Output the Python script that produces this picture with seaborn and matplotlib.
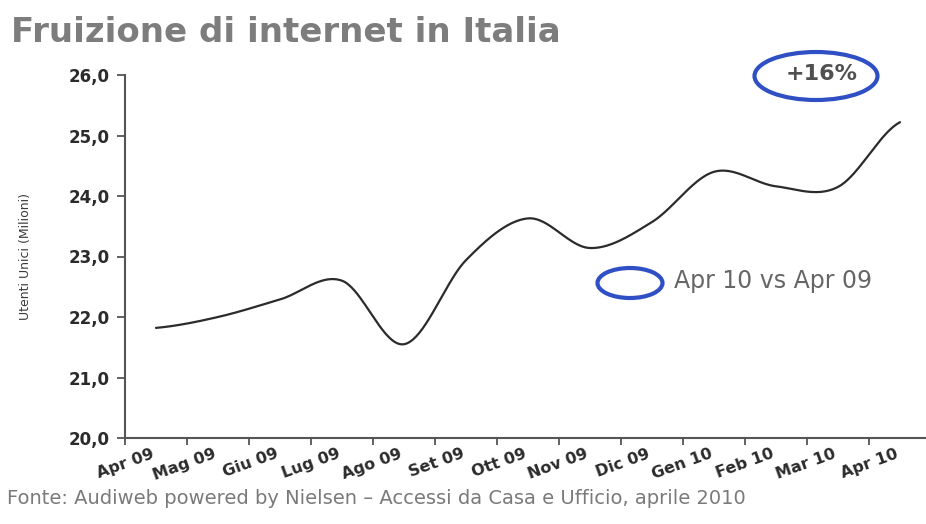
import numpy as np
import pandas as pd
import matplotlib
matplotlib.use("Agg")
import matplotlib.pyplot as plt
from matplotlib.patches import Ellipse
from matplotlib.ticker import FuncFormatter
from matplotlib.transforms import ScaledTranslation
import seaborn as sns

# Utenti unici mensili (milioni), aprile 2009 - aprile 2010
mesi = ["Apr 09", "Mag 09", "Giu 09", "Lug 09", "Ago 09", "Set 09", "Ott 09",
        "Nov 09", "Dic 09", "Gen 10", "Feb 10", "Mar 10", "Apr 10"]
utenti = [21.82, 22.00, 22.29, 22.60, 21.55, 22.94, 23.63,
          23.14, 23.57, 24.40, 24.16, 24.15, 25.22]
y_ticks = [20, 21, 22, 23, 24, 25, 26]

titolo = "Fruizione di internet in Italia"
etichetta_y = "Utenti Unici (Milioni)"
variazione = "+16%"
confronto = "Apr 10 vs Apr 09"
fonte = "Fonte: Audiweb powered by Nielsen \u2013 Accessi da Casa e Ufficio, aprile 2010"


def curva_smussata(valori, passi=40):
    """Smoothed line through every point (Bezier with Catmull-Rom handles)."""
    p = np.asarray(valori, dtype=float)
    n = len(p)
    xs, ys = [], []
    for i in range(n - 1):
        p0 = p[i - 1] if i > 0 else p[i]
        p1, p2 = p[i], p[i + 1]
        p3 = p[i + 2] if i + 2 < n else p[i + 1]
        t = np.linspace(0, 1, passi, endpoint=(i == n - 2))
        c1 = p1 + (p2 - p0) / 6.0
        c2 = p2 - (p3 - p1) / 6.0
        y = ((1 - t) ** 3) * p1 + 3 * ((1 - t) ** 2) * t * c1 + 3 * (1 - t) * t ** 2 * c2 + t ** 3 * p2
        xs.append(i + t)
        ys.append(y)
    return np.concatenate(xs), np.concatenate(ys)


sns.set_theme(style="white")
plt.rcParams["font.family"] = ["DejaVu Sans"]

W, H = 926, 524
fig = plt.figure(figsize=(W / 100, H / 100), dpi=100)
fig.patch.set_facecolor("white")


def fx(px):
    return px / W


def fy(py):
    return 1 - py / H


ax = fig.add_axes([fx(125), fy(438), fx(931) - fx(125), fy(75) - fy(438)])

xs, ys = curva_smussata(utenti)
df = pd.DataFrame({"x": xs, "y": ys})
sns.lineplot(data=df, x="x", y="y", ax=ax, color="#2b2b2b", linewidth=1.6, sort=False)

ax.set_xlim(-0.5, len(mesi) - 0.5)
ax.set_ylim(y_ticks[0], y_ticks[-1])

# tick marks on category boundaries, labels on category centres
ax.set_xticks(np.arange(-0.5, len(mesi)), [""] * (len(mesi) + 1))
ax.set_xticks(np.arange(len(mesi)), mesi, minor=True)
ax.tick_params(axis="x", which="major", direction="out", length=5, width=1.3,
               color="#555555", bottom=True)
ax.tick_params(axis="x", which="minor", length=0, pad=6, labelsize=11.5,
               labelcolor="#2b2b2b")
shift = ScaledTranslation(-5 / 100, 0, fig.dpi_scale_trans)
for lab in ax.get_xticklabels(minor=True):
    lab.set_rotation(20)
    lab.set_ha("right")
    lab.set_va("top")
    lab.set_rotation_mode("anchor")
    lab.set_fontweight("bold")
    lab.set_transform(lab.get_transform() + shift)

ax.set_yticks(y_ticks)
ax.yaxis.set_major_formatter(FuncFormatter(lambda v, _: f"{v:.1f}".replace(".", ",")))
ax.tick_params(axis="y", direction="out", length=6, width=1.3, color="#555555",
               left=True, labelsize=12, labelcolor="#2b2b2b", pad=5)
for lab in ax.get_yticklabels():
    lab.set_fontweight("bold")

ax.set_xlabel("")
ax.set_ylabel(etichetta_y, fontsize=9, color="#3a3a3a", labelpad=26)

for s in ["top", "right"]:
    ax.spines[s].set_visible(False)
for s in ["left", "bottom"]:
    ax.spines[s].set_color("#555555")
    ax.spines[s].set_linewidth(1.5)
ax.grid(False)

# title and source note
fig.text(fx(11), fy(42), titolo, fontsize=24.5, fontweight="bold", color="#7d7d7d",
         ha="left", va="baseline")
fig.text(fx(7), fy(499), fonte, fontsize=14, color="#7a7a7a", ha="left", va="center")

# highlighted year-on-year change
blu = "#2f4fc4"
e1 = Ellipse((fx(816), fy(76)), fx(123), 48 / H, transform=fig.transFigure,
             fill=False, edgecolor=blu, linewidth=3.0)
fig.add_artist(e1)
fig.text(fx(822), fy(74), variazione, fontsize=16, fontweight="bold", color="#505050",
         ha="center", va="center")

e2 = Ellipse((fx(630), fy(283)), fx(65), 30 / H, transform=fig.transFigure,
             fill=False, edgecolor=blu, linewidth=3.0)
fig.add_artist(e2)
fig.text(fx(674), fy(281), confronto, fontsize=17, color="#666666",
         ha="left", va="center")

fig.savefig("out.png", dpi=100, facecolor="white")
